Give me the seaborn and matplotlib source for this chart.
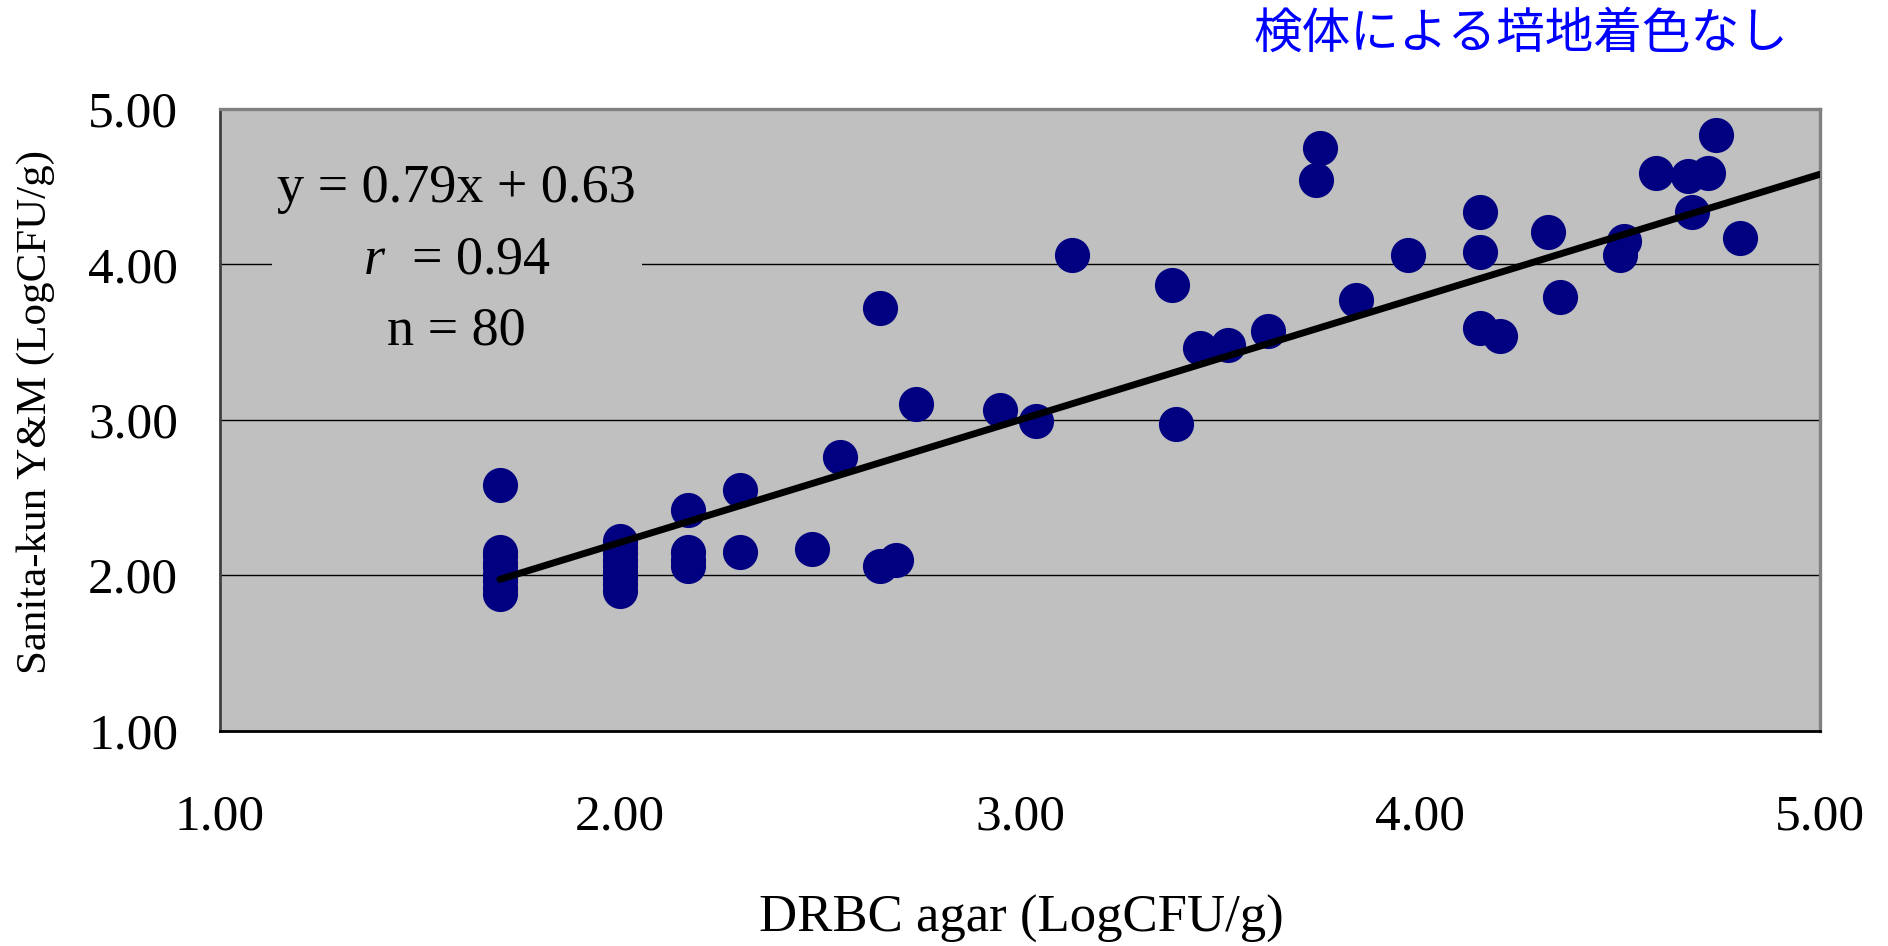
import matplotlib

matplotlib.use("Agg")
import matplotlib.pyplot as plt
import pandas as pd
import seaborn as sns
from matplotlib.ticker import FixedLocator, FormatStrFormatter

# DRBC agar (x) vs Sanita-kun Y&M (y), LogCFU/g
drbc = [
    1.70, 1.70, 1.70, 1.70, 1.70, 1.70, 1.70, 1.70, 1.70,
    2.00, 2.00, 2.00, 2.00, 2.00, 2.00, 2.00, 2.00, 2.00,
    2.17, 2.17, 2.17, 2.17,
    2.30, 2.30,
    2.48, 2.55, 2.65, 2.65, 2.69, 2.74, 2.95, 3.04, 3.13,
    3.38, 3.39, 3.45, 3.52, 3.62, 3.74, 3.75, 3.84, 3.97,
    4.15, 4.15, 4.15, 4.20, 4.32, 4.35, 4.50, 4.51,
    4.59, 4.67, 4.68, 4.72, 4.74, 4.80,
]
sanita = [
    2.58, 2.15, 2.12, 2.08, 2.05, 2.00, 1.96, 1.92, 1.88,
    2.22, 2.18, 2.14, 2.10, 2.06, 2.02, 1.98, 1.94, 1.90,
    2.42, 2.15, 2.10, 2.06,
    2.55, 2.15,
    2.17, 2.76, 3.72, 2.06, 2.10, 3.10, 3.06, 2.99, 4.06,
    3.87, 2.97, 3.46, 3.48, 3.57, 4.54, 4.75, 3.77, 4.06,
    4.34, 4.08, 3.59, 3.54, 4.21, 3.79, 4.06, 4.15,
    4.59, 4.57, 4.34, 4.59, 4.83, 4.17,
]

# regression y = 0.79x + 0.63, drawn from the lowest x to the axis end
slope = 0.79
intercept = 0.63
fit_x = [1.70, 5.00]
fit_y = [slope * v + intercept for v in fit_x]

ticks = [1.0, 2.0, 3.0, 4.0, 5.0]

df = pd.DataFrame({"x": drbc, "y": sanita})
fit = pd.DataFrame({"x": fit_x, "y": fit_y})

sns.set_style("white")
plt.rcParams["font.family"] = ["Liberation Serif", "Noto Sans CJK JP"]
plt.rcParams["mathtext.fontset"] = "custom"
plt.rcParams["mathtext.rm"] = "Liberation Serif"
plt.rcParams["mathtext.it"] = "Liberation Serif:italic"
plt.rcParams["text.color"] = "black"
plt.rcParams["axes.labelcolor"] = "black"

fig = plt.figure(figsize=(18.88, 9.46), dpi=100)
ax = fig.add_axes([220 / 1888, 1 - 730.5 / 946, 1600 / 1888, 621.5 / 946])
ax.set_facecolor("#C0C0C0")

sns.scatterplot(data=df, x="x", y="y", ax=ax, color="#000080", s=640,
                linewidth=0, zorder=3, legend=False)
sns.lineplot(data=fit, x="x", y="y", ax=ax, color="black", linewidth=5.0,
             solid_capstyle="round", zorder=4)

ax.set_xlim(1, 5)
ax.set_ylim(1, 5)
ax.xaxis.set_major_locator(FixedLocator(ticks))
ax.yaxis.set_major_locator(FixedLocator(ticks))
ax.xaxis.set_major_formatter(FormatStrFormatter("%.2f"))
ax.yaxis.set_major_formatter(FormatStrFormatter("%.2f"))
ax.tick_params(axis="both", direction="in", length=13, width=1, labelsize=37,
               colors="black", labelcolor="black")
ax.tick_params(axis="x", pad=46)
ax.tick_params(axis="y", pad=30)

for y in ticks[1:4]:
    ax.axhline(y, color="black", linewidth=1.0, zorder=1)

ax.spines["left"].set_color("#404040")
ax.spines["bottom"].set_color("black")
ax.spines["top"].set_color("#808080")
ax.spines["right"].set_color("#808080")
for side in ["left", "bottom"]:
    ax.spines[side].set_linewidth(2.0)
for side in ["top", "right"]:
    ax.spines[side].set_linewidth(2.4)

ax.set_xlabel("")
ax.set_ylabel("")

ax.text(0.148, 0.757, "y = 0.79x + 0.63\n$\\mathit{r}$  = 0.94\nn = 80",
        transform=ax.transAxes, ha="center", va="center", fontsize=39,
        linespacing=1.55, multialignment="center", zorder=2, color="black",
        bbox=dict(facecolor="#C0C0C0", edgecolor="none", pad=4))

fig.text(1021 / 1888, 1 - 919 / 946, "DRBC agar (LogCFU/g)", ha="center",
         va="center", fontsize=38, color="black")
fig.text(36 / 1888, 1 - 412 / 946, "Sanita-kun Y&M (LogCFU/g)", ha="center",
         va="center", rotation=90, fontsize=31, color="black")
fig.text(1521 / 1888, 1 - 34 / 946, "検体による培地着色なし", ha="center",
         va="center", fontsize=35, color="#0000FF",
         family=["Noto Sans CJK JP", "DejaVu Sans"])

fig.savefig("out.png", dpi=100, facecolor="white")
plt.close(fig)
